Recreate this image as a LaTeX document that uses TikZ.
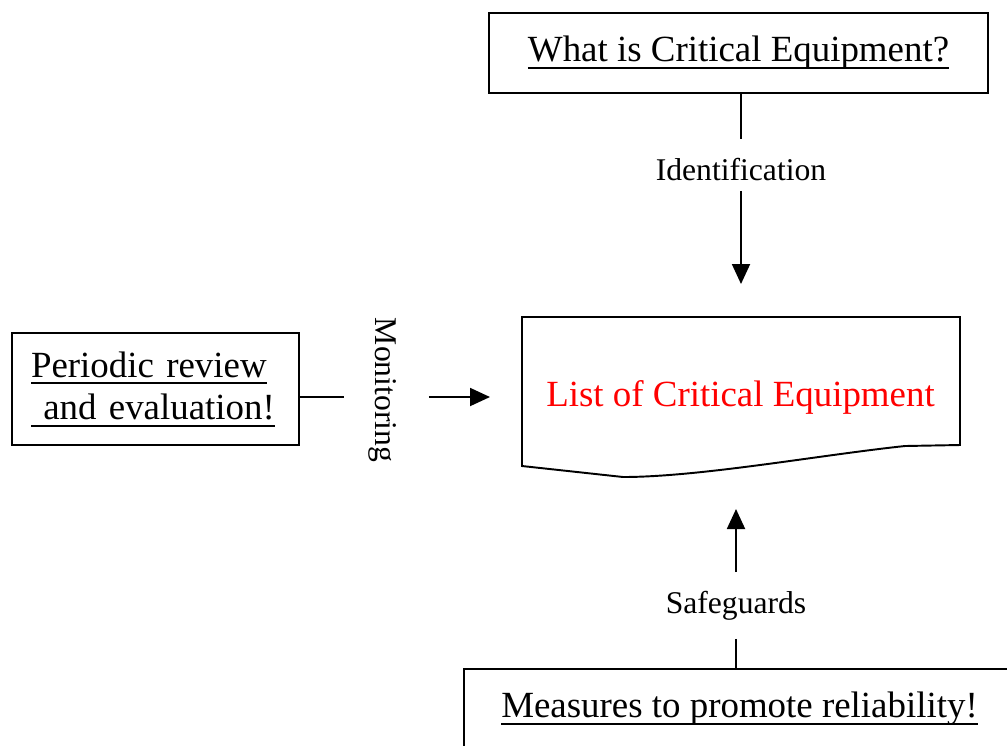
\documentclass[tikz,border=0pt]{standalone}
\usepackage{fontspec}
\setmainfont{Liberation Serif}
\usetikzlibrary{arrows.meta}
\newsavebox\ulbox
\newcommand\wul[1]{\leavevmode\sbox\ulbox{#1}\rlap{\rule[-3.8pt]{\wd\ulbox}{1.1pt}}\usebox\ulbox}
\newcommand\bigtext{\fontsize{21}{24.4}\selectfont}
\newcommand\labtext{\fontsize{18}{21}\selectfont}
\tikzset{
  boxnode/.style={draw, inner sep=0pt, font=\bigtext},
  labnode/.style={inner sep=0pt, font=\labtext, text depth=0pt},
  arr/.style={-{Triangle[length=4mm,width=3.6mm]}}
}
\begin{document}
\begin{tikzpicture}[x=0.02cm, y=-0.02cm, line width=1.1pt]
    \useasboundingbox (0,0) rectangle (1007,745);
    \node[boxnode, minimum width=9.98cm, minimum height=1.6cm] (what) at (738.5,53) {\wul{What is Critical Equipment?}};
    \node[boxnode, inner xsep=0.38cm, text width=4.98cm, minimum height=2.24cm, align=left] (review) at (155.5,389) {\wul{Periodic review}\\\wul{\ and evaluation!}};
    \node[boxnode, minimum width=11.04cm, minimum height=1.6cm] (measures) at (739.5,709) {\wul{Measures to promote reliability!}};
    \draw (522,317) -- (960,317) -- (960,445) -- (905,446) .. controls (820,455) and (700,477) .. (623,477) -- (522,466) -- cycle;
    \node[font=\bigtext, text=red, inner sep=0pt] (list) at (740.5,397) {List of Critical Equipment};
    \node[labnode, inner ysep=0.2cm, text height=0.6cm] (ident) at (741,165) {Identification};
    \node[labnode, inner ysep=0.5cm, text height=0.3cm] (safe) at (736,605.5) {Safeguards};
    \node[labnode, rotate=-90, inner ysep=0.6cm, text height=0.46cm] (mon) at (386.5,390) {Monitoring};
    \coordinate (mid) at (386.5,397);
    \coordinate (tipT) at (741,284);
    \coordinate (tipL) at (490,397);
    \coordinate (tipB) at (736,509);
    \draw (what.south -| ident) -- (ident.north);
    \draw[arr] (ident) -- (tipT);
    \draw (review.east |- mid) -- (mon.south |- mid);
    \draw[arr] (mon.north |- mid) -- (tipL);
    \draw[arr] (safe) -- (tipB);
    \draw (safe) -- (safe |- measures.north);
\end{tikzpicture}
\end{document}
